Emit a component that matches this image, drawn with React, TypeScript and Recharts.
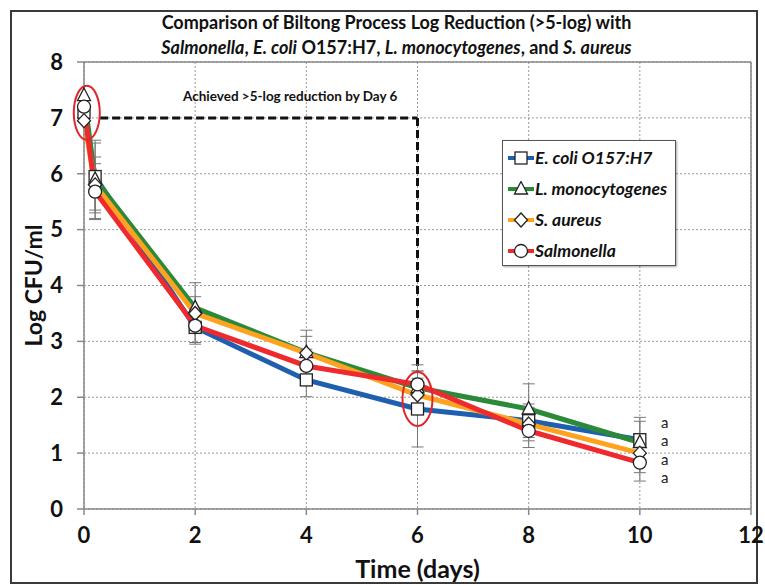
import React from "react";
import {
  ErrorBar,
  Line,
  LineChart,
  ReferenceDot,
  ReferenceLine,
  CartesianGrid,
  XAxis,
  YAxis,
} from "recharts";

// sampling times (days) and mean log CFU/ml per organism
const times = [0, 0.2, 2, 4, 6, 8, 10];
const ecoli = [7.1, 5.95, 3.25, 2.31, 1.79, 1.58, 1.24];
const lmono = [7.4, 5.9, 3.6, 2.8, 2.17, 1.79, 1.19];
const saureus = [6.95, 5.8, 3.5, 2.79, 2.04, 1.52, 1.0];
const salmonella = [7.2, 5.68, 3.28, 2.56, 2.23, 1.4, 0.83];

// standard deviations
const ecoliErr = [0, 0.6, 0.3, 0.3, 0.68, 0.3, 0.4];
const lmonoErr = [0, 0.7, 0.45, 0.4, 0.3, 0.45, 0.38];
const saureusErr = [0, 0.5, 0.3, 0.3, 0.3, 0.3, 0.35];
const salmonellaErr = [0, 0.5, 0.3, 0.3, 0.35, 0.3, 0.33];

const xTicks = [0, 2, 4, 6, 8, 10, 12];
const yTicks = [0, 1, 2, 3, 4, 5, 6, 7, 8];

// statistical letters at day 10
const letterDay = 10.45;
const letterLevels = [1.55, 1.22, 0.89, 0.56];

const data = times.map((t, i) => ({
  t,
  ecoli: ecoli[i],
  lmono: lmono[i],
  saureus: saureus[i],
  salmonella: salmonella[i],
  ecoliErr: ecoliErr[i],
  lmonoErr: lmonoErr[i],
  saureusErr: saureusErr[i],
  salmonellaErr: salmonellaErr[i],
}));

type Shape = "square" | "triangle" | "diamond" | "circle";

const series: { key: string; name: string; color: string; shape: Shape }[] = [
  { key: "ecoli", name: "E. coli O157:H7", color: "#1f5fb0", shape: "square" },
  { key: "lmono", name: "L. monocytogenes", color: "#2a8a3a", shape: "triangle" },
  { key: "saureus", name: "S. aureus", color: "#ffa21f", shape: "diamond" },
  { key: "salmonella", name: "Salmonella", color: "#ee2a2e", shape: "circle" },
];

const FONT = "Lato, 'Open Sans', sans-serif";

function Marker({ cx, cy, shape }: { cx: number; cy: number; shape: Shape }) {
  const st = { fill: "#fff", stroke: "#222", strokeWidth: 1.3 };
  if (shape === "square") return <rect x={cx - 6} y={cy - 6} width={12} height={12} {...st} />;
  if (shape === "triangle")
    return <polygon points={`${cx},${cy - 7.5} ${cx + 6.5},${cy + 5} ${cx - 6.5},${cy + 5}`} {...st} />;
  if (shape === "diamond")
    return <polygon points={`${cx},${cy - 7} ${cx + 6.5},${cy} ${cx},${cy + 7} ${cx - 6.5},${cy}`} {...st} />;
  return <circle cx={cx} cy={cy} r={6.5} {...st} />;
}

const makeDot = (shape: Shape) => (props: any) => {
  const { cx, cy, index } = props;
  if (cx == null || cy == null) return <g key={index} />;
  return (
    <g key={index}>
      <Marker cx={cx} cy={cy} shape={shape} />
    </g>
  );
};

const ellipse = (rx: number, ry: number) => (props: any) => (
  <ellipse cx={props.cx} cy={props.cy} rx={rx} ry={ry} fill="none" stroke="#e0262b" strokeWidth={2} />
);

function LegendBox() {
  return (
    <div
      style={{
        position: "absolute",
        left: 502,
        top: 140,
        width: 174,
        height: 126,
        boxSizing: "border-box",
        background: "#fff",
        border: "1.5px solid #555",
        boxShadow: "1px 1px 2px rgba(0,0,0,0.35)",
        padding: "1px 4px",
      }}
    >
      {series.map((s) => (
        <div key={s.key} style={{ display: "flex", alignItems: "center", height: 31 }}>
          <svg width={28} height={16}>
            <line x1={1} y1={8} x2={27} y2={8} stroke={s.color} strokeWidth={4} />
            <Marker cx={14} cy={8} shape={s.shape} />
          </svg>
          <span style={{ fontSize: 17.5, fontWeight: 700, fontStyle: "italic", color: "#111" }}>{s.name}</span>
        </div>
      ))}
    </div>
  );
}

export default function App() {
  return (
    <div style={{ position: "absolute", left: 0, top: 0, width: 765, height: 586, background: "#fff", fontFamily: FONT }}>
      <div
        style={{
          position: "absolute",
          left: 10,
          top: 10,
          width: 748,
          height: 574,
          border: "2px solid #3a3a3a",
          boxSizing: "border-box",
        }}
      />
      <LineChart
        width={765}
        height={586}
        data={data}
        margin={{ top: 62, right: 14, bottom: 0, left: 0 }}
      >
        <CartesianGrid stroke="#999" strokeDasharray="2 2" horizontal vertical />
        <XAxis
          type="number"
          dataKey="t"
          domain={[0, 12]}
          ticks={xTicks}
          height={77}
          tickSize={6}
          tickMargin={12}
          stroke="#888"
          strokeWidth={1.5}
          tick={{ fontSize: 22, fontWeight: 700, fill: "#111", fontFamily: FONT }}
          label={{
            value: "Time (days)",
            position: "insideBottom",
            offset: 8,
            style: { fontSize: 25, fontWeight: 700, fill: "#111", fontFamily: FONT },
          }}
        />
        <YAxis
          type="number"
          domain={[0, 8]}
          ticks={yTicks}
          width={84}
          tickSize={7}
          tickMargin={14}
          stroke="#888"
          strokeWidth={1.5}
          tick={{ fontSize: 22, fontWeight: 700, fill: "#111", fontFamily: FONT }}
          label={{
            value: "Log CFU/ml",
            angle: -90,
            position: "insideLeft",
            offset: 34,
            style: { fontSize: 23, fontWeight: 700, fill: "#111", fontFamily: FONT, textAnchor: "middle" },
          }}
        />
        <ReferenceLine y={8} stroke="#888" strokeWidth={1.5} />
        <ReferenceLine x={12} stroke="#888" strokeWidth={1.5} />
        <ReferenceLine
          segment={[
            { x: 0.29, y: 7 },
            { x: 6, y: 7 },
          ]}
          stroke="#111"
          strokeWidth={3}
          strokeDasharray="8 4"
        />
        <ReferenceLine
          segment={[
            { x: 6, y: 7 },
            { x: 6, y: 2.45 },
          ]}
          stroke="#111"
          strokeWidth={3}
          strokeDasharray="8 4"
        />
        {series.map((s) => (
          <Line
            key={s.key}
            type="linear"
            dataKey={s.key}
            name={s.name}
            stroke={s.color}
            strokeWidth={5}
            dot={makeDot(s.shape)}
            activeDot={false}
            isAnimationActive={false}
          >
            <ErrorBar dataKey={`${s.key}Err`} direction="y" width={6} stroke="#777" strokeWidth={1} />
          </Line>
        ))}
        <ReferenceDot x={0.05} y={7.09} r={1} shape={ellipse(13, 27)} />
        <ReferenceDot x={6} y={1.97} r={1} shape={ellipse(15, 27)} />
        {letterLevels.map((v, i) => (
          <ReferenceDot
            key={i}
            x={letterDay}
            y={v}
            r={0}
            fill="none"
            stroke="none"
            label={{ value: "a", position: "center", style: { fontSize: 15, fill: "#222", fontFamily: FONT } }}
          />
        ))}
      </LineChart>
      <LegendBox />
      <div
        style={{
          position: "absolute",
          left: 0,
          width: 765,
          top: 10,
          textAlign: "center",
          fontWeight: 700,
          fontSize: 18,
          lineHeight: "25px",
          color: "#111",
          paddingLeft: 28,
          boxSizing: "border-box",
        }}
      >
        <div>Comparison of Biltong Process Log Reduction (&gt;5-log) with</div>
        <div>
          <i>Salmonella</i>, <i>E. coli</i> O157:H7, <i>L. monocytogenes</i>, and <i>S. aureus</i>
        </div>
      </div>
      <div
        style={{
          position: "absolute",
          left: 183,
          top: 88,
          fontSize: 13.5,
          fontWeight: 700,
          color: "#111",
          whiteSpace: "nowrap",
        }}
      >
        Achieved &gt;5-log reduction by Day 6
      </div>
    </div>
  );
}
